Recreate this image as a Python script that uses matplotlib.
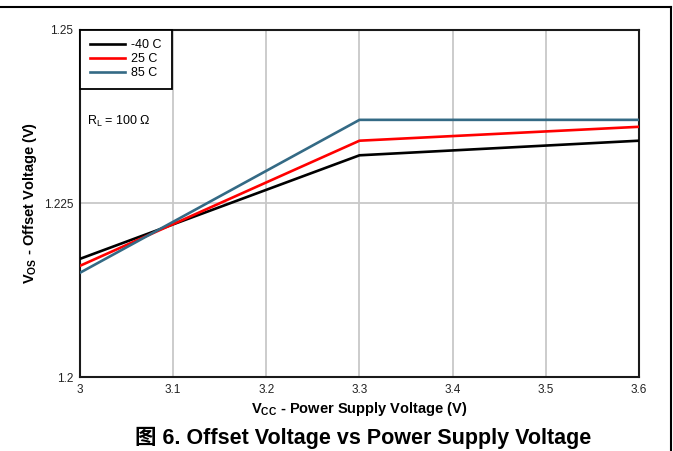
import matplotlib
matplotlib.use("Agg")
import matplotlib.pyplot as plt
from matplotlib.lines import Line2D

plt.rcParams['font.family'] = ['Liberation Sans', 'Noto Sans CJK SC', 'DejaVu Sans']

vcc = [3.0, 3.3, 3.6]
vos_m40 = [1.2170, 1.2319, 1.2340]
vos_25 = [1.2160, 1.2340, 1.2360]
vos_85 = [1.2150, 1.2370, 1.2370]
labels = ['-40 C', '25 C', '85 C']
colors = ['#000000', '#ff0000', '#346a85']
xticks = [3.0, 3.1, 3.2, 3.3, 3.4, 3.5, 3.6]
xticklabels = ['3', '3.1', '3.2', '3.3', '3.4', '3.5', '3.6']
yticks = [1.2, 1.225, 1.25]
yticklabels = ['1.2', '1.225', '1.25']

W, H = 673, 451
fig = plt.figure(figsize=(W / 100, H / 100), dpi=100)
ax = fig.add_axes([80 / W, 1 - 377 / H, (639 - 80) / W, (377 - 29.5) / H])

for y, lab, c in zip([vos_m40, vos_25, vos_85], labels, colors):
    ax.plot(vcc, y, color=c, lw=1.9, label=lab, zorder=3)

ax.set_xlim(3.0, 3.6)
ax.set_ylim(1.2, 1.25)
ax.set_xticks(xticks)
ax.set_xticklabels(xticklabels)
ax.set_yticks(yticks)
ax.set_yticklabels(yticklabels)
ax.grid(True, color='#c8c8c8', lw=1.3, zorder=0)
ax.tick_params(length=0, labelsize=8.5, colors='#222222', pad=5)
for s in ax.spines.values():
    s.set_linewidth(1.5)
    s.set_color('#1a1a1a')

ax.set_xlabel('V$_{\\mathregular{CC}}$ - Power Supply Voltage (V)', fontsize=10.5,
              fontweight='bold', labelpad=3)
ax.set_ylabel('V$_{\\mathregular{OS}}$ - Offset Voltage (V)', fontsize=10.5,
              fontweight='bold', labelpad=3)

leg = ax.legend(loc='upper left', borderaxespad=0, fancybox=False, fontsize=9,
                handlelength=2.8, handletextpad=0.5, labelspacing=0.15,
                borderpad=0.8, framealpha=1)
leg.get_frame().set_edgecolor('#000000')
leg.get_frame().set_linewidth(1.3)

ax.text(3.008, 1.2368, 'R$_{\\mathregular{L}}$ = 100 \u03a9', fontsize=9, va='center', ha='left')

fig.text(363 / W, 1 - 438 / H, '图 6. Offset Voltage vs Power Supply Voltage',
         fontsize=15.5, fontweight='bold', ha='center', va='center')

fig.add_artist(Line2D([0, 671 / W], [1 - 7 / H, 1 - 7 / H], color='black', lw=1.5,
                      transform=fig.transFigure))
fig.add_artist(Line2D([671 / W, 671 / W], [1 - 7 / H, 0], color='black', lw=1.5,
                      transform=fig.transFigure))

fig.savefig('out.png', dpi=100)
